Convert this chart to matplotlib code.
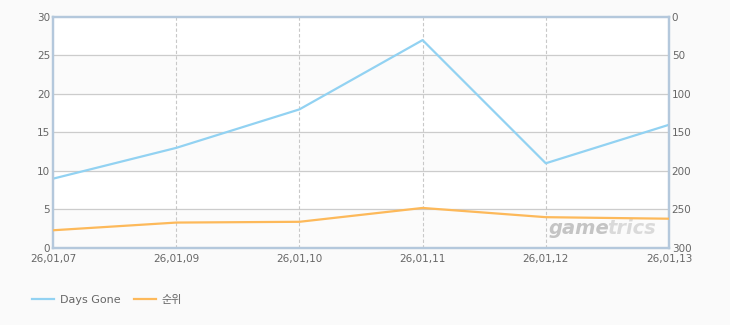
import matplotlib.pyplot as plt

# Fonts (Korean legend label)
plt.rcParams['font.family'] = ['DejaVu Sans', 'Noto Sans CJK KR']

# Data
dates = ["26,01,07", "26,01,09", "26,01,10", "26,01,11", "26,01,12", "26,01,13"]
days_gone = [9, 13, 18, 27, 11, 16]
rank = [277, 267, 266, 248, 260, 262]

# Colors
blue = "#92d2f2"
orange = "#fdb95a"
spine_color = "#b4c8dc"
text_color = "#666666"

# Create the figure
fig = plt.figure(figsize=(7.3, 3.25), dpi=100, facecolor="#fafafa")
ax = fig.add_axes([0.0726, 0.237, 0.8438, 0.7107])
ax.set_facecolor("white")

x = list(range(len(dates)))

# Alternating bands
for lo in [0, 10, 20]:
    ax.axhspan(lo, lo + 5, color="#fbfbfb", zorder=0)

# Grid
for yv in range(5, 30, 5):
    ax.axhline(yv, color="#cccccc", linewidth=0.9, zorder=1)
for xv in x[1:-1]:
    ax.axvline(xv, color="#c8c8c8", linewidth=0.8, linestyle=(0, (3, 2)), zorder=1)

# Left axis series
ax.plot(x, days_gone, color=blue, linewidth=1.6, zorder=3, label="Days Gone")
ax.set_xlim(0, len(dates) - 1)
ax.set_ylim(0, 30)
ax.set_yticks(range(0, 31, 5))
ax.set_xticks(x)
ax.set_xticklabels(dates)

# Right axis series (inverted)
ax2 = ax.twinx()
ax2.plot(x, rank, color=orange, linewidth=1.6, zorder=3, label="순위")
ax2.set_ylim(300, 0)
ax2.set_yticks(range(0, 301, 50))

for a in (ax, ax2):
    for s in a.spines.values():
        s.set_color(spine_color)
        s.set_linewidth(1.6)
    a.tick_params(length=0, labelsize=7.5, colors=text_color, pad=2)
ax.tick_params(axis="x", pad=4)

# Watermark
ax.text(0.805, 0.045, "game", transform=ax.transAxes, ha="left", va="bottom",
        fontsize=14, fontstyle="italic", fontweight="bold", color="#c4c4c4", zorder=2)
ax.text(0.900, 0.045, "trics", transform=ax.transAxes, ha="left", va="bottom",
        fontsize=14, fontstyle="italic", fontweight="bold", color="#dadada", zorder=2)

# Legend
h1, l1 = ax.get_legend_handles_labels()
h2, l2 = ax2.get_legend_handles_labels()
fig.legend(h1 + h2, l1 + l2, loc="lower left", bbox_to_anchor=(0.03, 0.03), ncol=2,
           frameon=False, fontsize=8, labelcolor=text_color, handlelength=2.0,
           columnspacing=1.2, handletextpad=0.5)

plt.savefig("out.png", dpi=100, facecolor=fig.get_facecolor())
